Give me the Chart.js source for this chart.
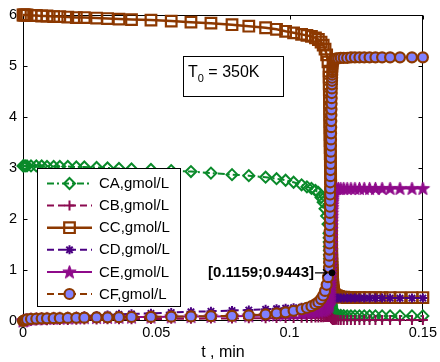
<!DOCTYPE html>
<html><head><meta charset="utf-8">
<script src="https://cdn.jsdelivr.net/npm/chart.js@4"></script>
<style>html,body{margin:0;padding:0;background:#fff}canvas{display:block}</style>
</head><body>
<canvas id="c" width="440" height="362"></canvas>
<script>
// ---------- data ----------
const seriesNames = ['CA,gmol/L','CB,gmol/L','CC,gmol/L','CD,gmol/L','CE,gmol/L','CF,gmol/L'];
const tValues = [0,0.0003,0.0008,0.0015,0.003,0.005,0.007,0.009,0.0115,0.0138,0.0168,0.020,0.023,0.0276,0.0317,0.036,0.0407,0.048,0.0556,0.063,0.0705,0.0784,0.0847,0.091,0.0951,0.0985,0.1015,0.1045,0.1065,0.1082,0.1097,0.1108,0.1118,0.1126,0.1133,0.1139,0.1144,
 0.114800,0.114835,0.114870,0.114905,0.114940,0.114975,0.115010,0.115045,0.115080,0.115115,0.115150,0.115185,0.115220,0.115255,0.115290,0.115325,0.115360,0.115395,0.115430,0.115465,0.115500,0.115535,0.115570,0.115605,0.115640,0.115675,0.115710,0.115745,0.115780,0.115815,0.115850,0.115885,0.115920,0.115955,0.115990,0.116025,0.116060,0.116095,0.116130,0.116165,0.116200,0.116235,0.116270,0.116305,0.116340,0.116375,0.116410,
 0.1167,0.1171,0.1176,0.1183,0.1192,0.1203,0.1216,0.1230,0.1245,0.1262,0.1280,0.1300,0.1322,0.1347,0.1377,0.1414,0.1459,0.1500];
const CA = [3.04,3.04,3.04,3.04,3.04,3.04,3.04,3.03,3.03,3.03,3.03,3.02,3.02,3.01,3.00,2.99,2.98,2.97,2.95,2.93,2.90,2.87,2.85,2.82,2.79,2.76,2.72,2.67,2.63,2.60,2.56,2.52,2.42,2.33,2.20,2.06,1.90,
 1.72,1.63,1.55,1.46,1.38,1.30,1.22,1.14,1.06,0.99,0.92,0.86,0.80,0.74,0.68,0.63,0.58,0.53,0.49,0.45,0.41,0.38,0.35,0.32,0.30,0.28,0.26,0.24,0.23,0.21,0.20,0.19,0.18,0.17,0.16,0.155,0.15,0.145,0.14,0.138,0.135,0.132,0.13,0.128,0.125,0.122,0.12,
 0.12,0.115,0.11,0.11,0.11,0.105,0.10,0.10,0.10,0.10,0.10,0.10,0.10,0.10,0.10,0.10,0.10,0.10];
const CB = [0,0.001,0.002,0.004,0.007,0.010,0.013,0.015,0.018,0.020,0.022,0.025,0.027,0.030,0.032,0.034,0.036,0.040,0.042,0.045,0.048,0.050,0.052,0.055,0.057,0.058,0.060,0.062,0.064,0.066,0.068,0.070,0.072,0.074,0.076,0.078,0.080,
 0.085,0.088,0.090,0.093,0.095,0.098,0.100,0.100,0.100,0.100,0.100,0.098,0.095,0.093,0.090,0.088,0.085,0.083,0.080,0.078,0.075,0.073,0.070,0.068,0.065,0.063,0.060,0.058,0.055,0.053,0.050,0.048,0.046,0.044,0.042,0.040,0.038,0.037,0.035,0.034,0.032,0.031,0.030,0.029,0.028,0.027,0.026,
 0.025,0.024,0.023,0.022,0.021,0.020,0.020,0.020,0.020,0.020,0.020,0.020,0.020,0.020,0.020,0.020,0.020,0.020];
const CC = [6.00,6.00,6.00,6.00,5.99,5.99,5.98,5.98,5.97,5.97,5.96,5.95,5.95,5.94,5.93,5.92,5.91,5.90,5.88,5.86,5.84,5.81,5.78,5.75,5.72,5.68,5.65,5.62,5.60,5.58,5.55,5.52,5.47,5.41,5.33,5.22,5.08,
 4.90,4.78,4.65,4.53,4.40,4.28,4.15,4.03,3.90,3.78,3.65,3.53,3.40,3.28,3.15,3.03,2.90,2.78,2.65,2.53,2.40,2.28,2.15,2.03,1.90,1.78,1.66,1.54,1.42,1.31,1.20,1.12,1.05,0.99,0.94,0.89,0.84,0.80,0.76,0.72,0.69,0.66,0.63,0.60,0.58,0.56,0.55,
 0.52,0.50,0.49,0.48,0.47,0.47,0.46,0.46,0.46,0.46,0.46,0.46,0.46,0.46,0.46,0.46,0.46,0.46];
const CD = [0,0.002,0.005,0.010,0.020,0.030,0.040,0.050,0.060,0.070,0.080,0.090,0.100,0.110,0.120,0.130,0.140,0.150,0.165,0.180,0.190,0.205,0.215,0.230,0.240,0.250,0.260,0.270,0.280,0.290,0.300,0.310,0.320,0.330,0.340,0.350,0.360,
 0.365,0.368,0.370,0.373,0.375,0.378,0.380,0.383,0.385,0.388,0.390,0.393,0.395,0.398,0.400,0.403,0.405,0.408,0.410,0.413,0.415,0.418,0.420,0.423,0.425,0.428,0.430,0.432,0.435,0.437,0.440,0.440,0.440,0.442,0.445,0.445,0.445,0.447,0.450,0.450,0.450,0.450,0.450,0.450,0.450,0.450,0.450,
 0.45,0.45,0.45,0.45,0.45,0.45,0.45,0.45,0.45,0.45,0.45,0.45,0.45,0.45,0.45,0.45,0.45,0.45];
const CE = [0,0.010,0.020,0.030,0.040,0.045,0.050,0.052,0.055,0.057,0.060,0.062,0.065,0.068,0.070,0.073,0.076,0.078,0.082,0.086,0.090,0.095,0.100,0.110,0.120,0.130,0.140,0.150,0.160,0.170,0.180,0.190,0.200,0.210,0.230,0.250,0.280,
 0.30,0.33,0.36,0.40,0.43,0.47,0.51,0.55,0.60,0.65,0.70,0.75,0.81,0.87,0.93,0.99,1.05,1.11,1.18,1.24,1.31,1.38,1.45,1.52,1.59,1.66,1.73,1.80,1.87,1.94,2.00,2.06,2.12,2.18,2.23,2.28,2.33,2.37,2.41,2.45,2.48,2.51,2.53,2.55,2.56,2.57,2.58,
 2.59,2.60,2.60,2.60,2.60,2.60,2.60,2.60,2.60,2.60,2.60,2.60,2.60,2.60,2.60,2.60,2.60,2.60];
const CF = [0,0.010,0.020,0.030,0.040,0.045,0.050,0.052,0.055,0.057,0.060,0.063,0.066,0.070,0.072,0.075,0.078,0.080,0.085,0.090,0.095,0.100,0.110,0.130,0.150,0.170,0.200,0.230,0.260,0.290,0.330,0.370,0.430,0.500,0.590,0.710,0.860,
 1.05,1.16,1.28,1.40,1.52,1.64,1.76,1.88,2.00,2.12,2.24,2.36,2.48,2.60,2.72,2.84,2.96,3.08,3.20,3.32,3.44,3.56,3.68,3.80,3.92,4.04,4.15,4.26,4.37,4.47,4.56,4.64,4.71,4.77,4.83,4.88,4.92,4.96,4.99,5.02,5.04,5.06,5.08,5.09,5.10,5.11,5.12,
 5.13,5.14,5.15,5.15,5.16,5.16,5.16,5.17,5.17,5.17,5.17,5.17,5.17,5.17,5.17,5.17,5.17,5.17];
const xTicks = [0, 0.05, 0.1, 0.15];
const xTickLabels = ['0', '0.05', '0.1', '0.15'];
const yTicks = [0, 1, 2, 3, 4, 5, 6];
const yTickLabels = ['0', '1', '2', '3', '4', '5', '6'];
const xTitle = 't , min';
const tipPoint = [0.1159, 0.9443];
const tipLabel = '[0.1159;0.9443]';
const boxMain = 'T', boxSub = '0', boxRest = ' = 350K';

// ---------- styling ----------
const FONT = '"Liberation Sans", Arial, Helvetica, sans-serif';
const GREEN = '#0A8A2A', MAROON = '#8B0A50', BROWN = '#8C3800', INDIGO = '#4B0082', MAGENTA = '#8E0A8A', LBLUE = '#8080FF';

function makePentagram(outerR, innerR, fill, stroke, lw) {
  const size = Math.ceil(outerR * 2 + lw + 2);
  const c = document.createElement('canvas'); c.width = size; c.height = size;
  const g = c.getContext('2d');
  g.translate(size / 2, size / 2 + 0.5);
  g.beginPath();
  for (let k = 0; k < 10; k++) {
    const r = (k % 2) ? innerR : outerR;
    const a = -Math.PI / 2 + k * Math.PI / 5;
    g.lineTo(r * Math.cos(a), r * Math.sin(a));
  }
  g.closePath();
  g.fillStyle = fill; g.fill();
  g.strokeStyle = stroke; g.lineWidth = lw; g.lineJoin = 'miter'; g.stroke();
  return c;
}
const pentagram = makePentagram(7, 2.9, MAGENTA, MAGENTA, 1);

const series = [CA, CB, CC, CD, CE, CF];
const styles = [
  {borderColor: GREEN, borderWidth: 2, borderDash: [7,3,2,3], pointStyle: 'rectRot', pointRadius: 5.5, pointBorderWidth: 2, pointBackgroundColor: 'rgba(0,0,0,0)', pointBorderColor: GREEN},
  {borderColor: MAROON, borderWidth: 2, borderDash: [7,4], pointStyle: 'cross', pointRadius: 5, pointBorderWidth: 2, pointBackgroundColor: MAROON, pointBorderColor: MAROON},
  {borderColor: BROWN, borderWidth: 2.5, borderDash: [], pointStyle: 'rect', pointRadius: 7.5, pointBorderWidth: 2.2, pointBackgroundColor: 'rgba(0,0,0,0)', pointBorderColor: BROWN},
  {borderColor: INDIGO, borderWidth: 2, borderDash: [7,4], pointStyle: 'star', pointRadius: 4.5, pointBorderWidth: 2, pointBackgroundColor: INDIGO, pointBorderColor: INDIGO},
  {borderColor: MAGENTA, borderWidth: 2, borderDash: [], pointStyle: pentagram, pointRadius: 7, pointBorderWidth: 1, pointBackgroundColor: MAGENTA, pointBorderColor: MAGENTA},
  {borderColor: BROWN, borderWidth: 2, borderDash: [7,4], pointStyle: 'circle', pointRadius: 5, pointBorderWidth: 2.2, pointBackgroundColor: LBLUE, pointBorderColor: BROWN}
];

const datasets = series.map((arr, i) => Object.assign({
  label: seriesNames[i],
  data: tValues.map((t, k) => ({x: t, y: arr[k]})),
  fill: false, tension: 0, clip: false,
  pointHoverRadius: 0,
  order: 10 - i
}, styles[i]));
datasets.push({
  label: 'tip', data: [{x: tipPoint[0], y: tipPoint[1]}], showLine: false,
  pointStyle: 'circle', pointRadius: 3, pointBackgroundColor: '#000', pointBorderColor: '#000', pointBorderWidth: 1,
  clip: false, order: 1
});

function drawMarker(ctx, ds, x, y) {
  const st = ds.pointStyle, r = ds.pointRadius;
  ctx.save();
  ctx.setLineDash([]);
  ctx.strokeStyle = ds.pointBorderColor; ctx.fillStyle = ds.pointBackgroundColor; ctx.lineWidth = ds.pointBorderWidth;
  if (st instanceof HTMLCanvasElement) { ctx.drawImage(st, x - st.width / 2, y - st.height / 2); ctx.restore(); return; }
  ctx.beginPath();
  if (st === 'circle') { ctx.arc(x, y, r, 0, Math.PI * 2); ctx.fill(); ctx.stroke(); }
  else if (st === 'rectRot') { ctx.moveTo(x, y - r); ctx.lineTo(x + r, y); ctx.lineTo(x, y + r); ctx.lineTo(x - r, y); ctx.closePath(); ctx.fill(); ctx.stroke(); }
  else if (st === 'rect') { const s = r * Math.SQRT1_2; ctx.rect(x - s, y - s, 2 * s, 2 * s); ctx.fill(); ctx.stroke(); }
  else if (st === 'cross') { ctx.moveTo(x - r, y); ctx.lineTo(x + r, y); ctx.moveTo(x, y - r); ctx.lineTo(x, y + r); ctx.stroke(); }
  else if (st === 'star') {
    const d = r * Math.SQRT1_2;
    ctx.moveTo(x - r, y); ctx.lineTo(x + r, y); ctx.moveTo(x, y - r); ctx.lineTo(x, y + r);
    ctx.moveTo(x - d, y - d); ctx.lineTo(x + d, y + d); ctx.moveTo(x - d, y + d); ctx.lineTo(x + d, y - d);
    ctx.stroke();
  }
  ctx.restore();
}

const framePlugin = {
  id: 'frame',
  beforeDatasetsDraw(chart) {
    const {ctx, chartArea: a, scales: {x, y}} = chart;
    const L = Math.round(a.left) + 0.5, R = Math.round(a.right) - 0.5, T = Math.round(a.top) + 0.5, B = Math.round(a.bottom) - 0.5;
    ctx.save();
    ctx.strokeStyle = '#000'; ctx.lineWidth = 1; ctx.setLineDash([]);
    ctx.strokeRect(L, T, R - L, B - T);
    ctx.beginPath();
    xTicks.forEach(v => {
      const px = Math.round(x.getPixelForValue(v)) + 0.5;
      ctx.moveTo(px, B); ctx.lineTo(px, B - 4);
      ctx.moveTo(px, T); ctx.lineTo(px, T + 4);
    });
    yTicks.forEach(v => {
      const py = Math.round(y.getPixelForValue(v)) + 0.5;
      ctx.moveTo(L, py); ctx.lineTo(L + 4, py);
      ctx.moveTo(R, py); ctx.lineTo(R - 4, py);
    });
    ctx.stroke();
    ctx.restore();
  },
  afterDatasetsDraw(chart) {
    const {ctx, scales: {x, y}} = chart;
    ctx.save();
    // legend
    const lx = 37.5, ly = 168.5, lw = 143, lh = 138;
    ctx.fillStyle = '#fff'; ctx.fillRect(lx, ly, lw, lh);
    ctx.strokeStyle = '#000'; ctx.lineWidth = 1; ctx.setLineDash([]);
    ctx.strokeRect(lx, ly, lw, lh);
    ctx.font = '15px ' + FONT; ctx.textBaseline = 'middle'; ctx.textAlign = 'left';
    for (let i = 0; i < 6; i++) {
      const ds = chart.data.datasets[i];
      const ry = 183.5 + i * 22.1;
      ctx.save();
      ctx.strokeStyle = ds.borderColor; ctx.lineWidth = ds.borderWidth; ctx.setLineDash(ds.borderDash || []);
      ctx.beginPath(); ctx.moveTo(47, ry); ctx.lineTo(92, ry); ctx.stroke();
      ctx.restore();
      drawMarker(ctx, ds, 69.5, ry);
      ctx.fillStyle = '#000';
      ctx.fillText(seriesNames[i], 99, ry + 0.5);
    }
    // T0 box
    ctx.fillStyle = '#fff'; ctx.fillRect(183.5, 56.5, 100, 40);
    ctx.strokeStyle = '#000'; ctx.strokeRect(183.5, 56.5, 100, 40);
    ctx.fillStyle = '#000'; ctx.textBaseline = 'alphabetic';
    ctx.font = '16px ' + FONT;
    ctx.fillText(boxMain, 188, 77);
    const wT = ctx.measureText(boxMain).width;
    ctx.font = '11px ' + FONT;
    ctx.fillText(boxSub, 188 + wT, 82);
    const wS = ctx.measureText(boxSub).width;
    ctx.font = '16px ' + FONT;
    ctx.fillText(boxRest, 188 + wT + wS, 77);
    // data tip annotation
    const dx = x.getPixelForValue(tipPoint[0]), dy = y.getPixelForValue(tipPoint[1]);
    const aEnd = dx - 5, aStart = dx - 17;
    ctx.strokeStyle = '#000'; ctx.lineWidth = 1.3;
    ctx.beginPath();
    ctx.moveTo(aStart, dy); ctx.lineTo(aEnd, dy);
    ctx.moveTo(aEnd - 4, dy - 3.5); ctx.lineTo(aEnd, dy); ctx.lineTo(aEnd - 4, dy + 3.5);
    ctx.stroke();
    ctx.font = 'bold 15px ' + FONT; ctx.textAlign = 'right'; ctx.textBaseline = 'middle';
    ctx.fillText(tipLabel, aStart - 1, dy);
    ctx.restore();
  }
};

new Chart(document.getElementById('c'), {
  type: 'line',
  data: {datasets},
  options: {
    responsive: false, animation: false, devicePixelRatio: 1,
    layout: {padding: {left: 0, right: 15, top: 15, bottom: 0}},
    plugins: {legend: {display: false}, tooltip: {enabled: false}},
    events: [],
    scales: {
      x: {
        type: 'linear', position: 'bottom', min: 0, max: 0.15,
        grid: {display: false, drawTicks: false}, border: {display: false},
        afterBuildTicks: s => { s.ticks = xTicks.map(v => ({value: v})); },
        afterFit: s => { s.height = 41; },
        ticks: {padding: 3, color: '#000', font: {family: FONT, size: 14.5}, maxRotation: 0, autoSkip: false,
                callback: (v, i) => xTickLabels[i]},
        title: {display: true, text: xTitle, color: '#000', font: {family: FONT, size: 16}, padding: {top: 0, bottom: 0}}
      },
      y: {
        type: 'linear', position: 'left', min: 0, max: 6,
        grid: {display: false, drawTicks: false}, border: {display: false},
        afterBuildTicks: s => { s.ticks = yTicks.map(v => ({value: v})); },
        afterFit: s => { s.width = 23; },
        ticks: {padding: 6, color: '#000', font: {family: FONT, size: 14.5}, autoSkip: false,
                callback: (v, i) => yTickLabels[i]}
      }
    }
  },
  plugins: [framePlugin]
});
</script>
</body></html>
